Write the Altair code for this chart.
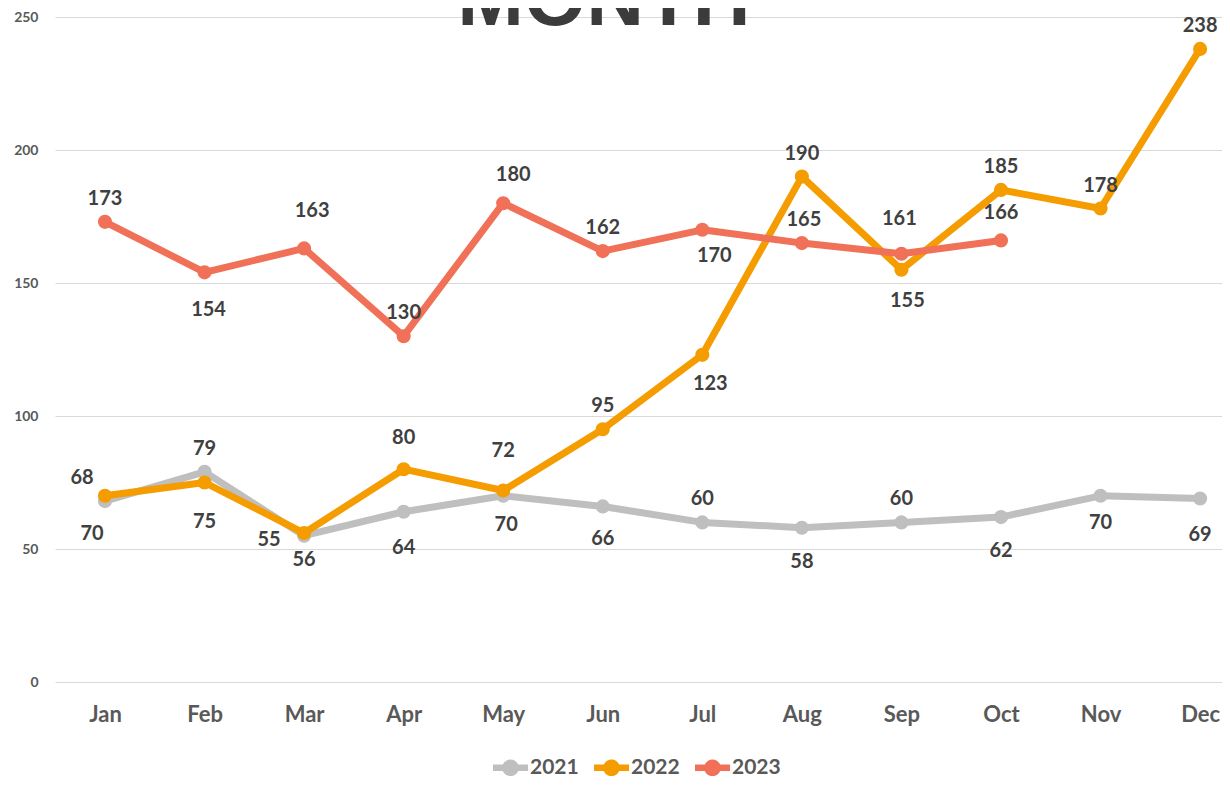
import altair as alt
import pandas as pd

months = ["Jan", "Feb", "Mar", "Apr", "May", "Jun", "Jul", "Aug", "Sep", "Oct", "Nov", "Dec"]
years = ["2021", "2022", "2023"]
v2021 = [68, 79, 55, 64, 70, 66, 60, 58, 60, 62, 70, 69]
v2022 = [70, 75, 56, 80, 72, 95, 123, 190, 155, 185, 178, 238]
v2023 = [173, 154, 163, 130, 180, 162, 170, 165, 161, 166]
colors = ["#bfbfbf", "#f59c00", "#f07157"]
y_ticks = [0, 50, 100, 150, 200, 250]
title_text = ["MONTH"]

# data-label placement offsets (pixels), style only
dx2021 = [-23, 0, -35, 0, 3, 0, 0, 0, 0, 0, 0, 0]
dy2021 = [-23, -23, 4, 36, 29, 33, -23, 34, -23, 34, 27, 37]
dx2022 = [-13, 0, 0, 0, 0, 0, 8, 0, 6, 0, 0, 0]
dy2022 = [38, 39, 27, -31, -39, -23, 29, -23, 31, -23, -23, -23]
dx2023 = [0, 4, 8, 0, 10, 0, 12, 2, -2, 0]
dy2023 = [-23, 38, -37, -23, -28, -23, 26, -23, -35, -27]

rows = []
for yr, vals, dxs, dys in [("2021", v2021, dx2021, dy2021),
                           ("2022", v2022, dx2022, dy2022),
                           ("2023", v2023, dx2023, dy2023)]:
    for i, (m, v, dx, dy) in enumerate(zip(months, vals, dxs, dys)):
        rows.append({"idx": i, "month": m, "year": yr, "series": yr,
                     "value": v, "dx": dx, "dy": dy})
df = pd.DataFrame(rows)

FONT = "Lato"
month_expr = "[" + ",".join("'%s'" % m for m in months) + "][datum.value]"

x_enc = alt.X("idx:Q",
              scale=alt.Scale(domain=[-0.502, 11.22], nice=False, zero=False),
              axis=alt.Axis(title=None, values=list(range(len(months))), labelExpr=month_expr,
                            labelFontSize=22, labelFont=FONT, labelFontWeight="bold",
                            labelColor="#595959", labelPadding=22, ticks=False, domain=False,
                            grid=False, labelAngle=0, labelFlush=False, labelOverlap=False))
y_enc = alt.Y("value:Q", scale=alt.Scale(domain=[0, 250]),
              axis=alt.Axis(title=None, values=y_ticks, labelFontSize=14, labelFont=FONT,
                            labelFontWeight="bold", labelColor="#595959", labelPadding=17,
                            ticks=False, domain=False, grid=True, gridColor="#d9d9d9",
                            gridWidth=1))

base = alt.Chart(df)

lines = base.mark_line(strokeWidth=7, strokeJoin="round", strokeCap="round").encode(
    x=x_enc, y=y_enc,
    stroke=alt.Stroke("series:N", scale=alt.Scale(domain=years, range=colors), legend=None),
    detail="series:N",
)

legend_path = ("M-1,-0.19 L1,-0.19 L1,0.19 L-1,0.19 Z "
               "M-0.475,0 A0.475,0.475 0 1,1 0.475,0 A0.475,0.475 0 1,1 -0.475,0 Z")

points = base.mark_circle(size=200, opacity=1).encode(
    x=x_enc, y=y_enc,
    fill=alt.Fill("year:N", scale=alt.Scale(domain=years, range=colors),
                  legend=alt.Legend(title=None, orient="none", direction="horizontal",
                                    legendX=438, legendY=733,
                                    symbolType=legend_path, symbolSize=1225,
                                    symbolStrokeWidth=0, labelFontSize=21, labelFont=FONT,
                                    labelFontWeight="bold", labelColor="#595959",
                                    columnPadding=15, labelOffset=2)),
)

# one text layer per distinct placement offset
label_layers = []
pairs = sorted(set(zip(df["dx"], df["dy"])))
for dx, dy in pairs:
    label_layers.append(
        base.transform_filter(
            (alt.datum.dx == int(dx)) & (alt.datum.dy == int(dy))
        ).mark_text(fontSize=20, font=FONT, fontWeight="bold", color="#404040",
                    align="center", baseline="middle", dx=int(dx), dy=int(dy)).encode(
            x=x_enc, y=y_enc, text="value:Q")
    )

title = alt.Chart(pd.DataFrame({"t": title_text})).mark_text(
    fontSize=80, font="Liberation Sans", fontWeight="bold", color="#3b3b3b",
    align="center", baseline="alphabetic").encode(
    text="t:N", x=alt.value(549), y=alt.value(8))

chart = alt.layer(lines, points, *label_layers, title).properties(
    width=1167, height=665,
    padding={"left": 47, "top": 9, "right": 0, "bottom": 95},
    autosize=alt.AutoSizeParams(type="none"),
).resolve_scale(stroke="independent", fill="independent").configure_view(stroke=None)

chart.save("out.html", embed_options={"renderer": "svg", "actions": False})
